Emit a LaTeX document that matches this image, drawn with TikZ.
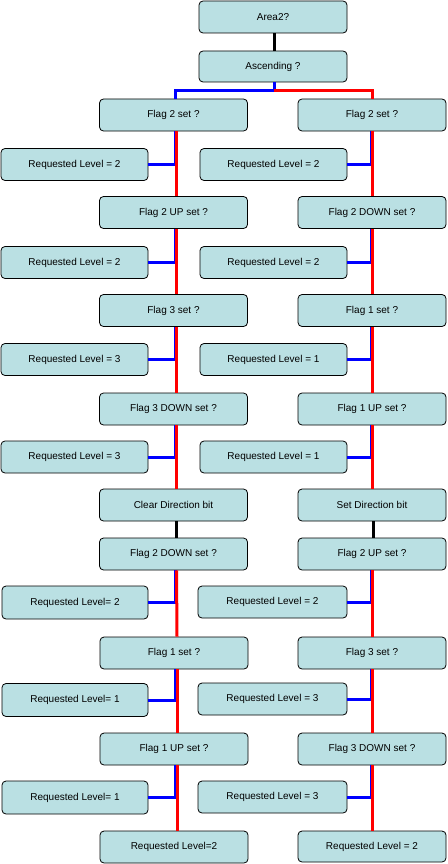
\documentclass[tikz,border=0pt]{standalone}
\usepackage{fontspec}
\setmainfont{Liberation Sans}
\definecolor{boxc}{RGB}{186,224,227}
\definecolor{lblue}{RGB}{0,0,255}
\definecolor{lred}{RGB}{255,0,0}
\tikzset{
  bx/.style={draw=black, line width=0.8pt, rounded corners=4pt, fill=boxc,
    minimum height=32pt, inner sep=0pt, font=\fontsize{10}{12}\selectfont},
  fbox/.style={bx, minimum width=148pt},
  rbox/.style={bx, minimum width=147pt},
  bl/.style={draw=lblue, line width=3pt},
  rd/.style={draw=lred, line width=3pt},
  bk/.style={draw=black, line width=3pt},
}
\begin{document}
\begin{tikzpicture}[x=1pt,y=-1pt]
\useasboundingbox (0,0) rectangle (447,864);
% top
\node[fbox] (area) at (273,17) {Area2?};
\node[fbox, minimum height=31pt] (asc) at (273,66.5) {Ascending ?};
% left column
\node[fbox] (fL1) at (173.5,115) {Flag 2 set ?};
\node[rbox] (rL1) at (74.5,164.5) {Requested Level = 2};
\node[fbox] (fL2) at (173.5,212.5) {Flag 2 UP set ?};
\node[rbox] (rL2) at (74.5,262.5) {Requested Level = 2};
\node[fbox] (fL3) at (173.5,310.5) {Flag 3 set ?};
\node[rbox] (rL3) at (74.5,359.5) {Requested Level = 3};
\node[fbox] (fL4) at (173.5,409) {Flag 3 DOWN set ?};
\node[rbox] (rL4) at (74.5,457) {Requested Level = 3};
\node[fbox] (cL) at (173.5,505) {Clear Direction bit};
\node[fbox] (fL5) at (173.5,554) {Flag 2 DOWN set ?};
\node[rbox, minimum width=146pt, minimum height=33pt] (rL5) at (75,602.5) {Requested Level= 2};
\node[fbox] (fL6) at (174,653) {Flag 1 set ?};
\node[rbox, minimum width=146pt, minimum height=33pt] (rL6) at (75,700) {Requested Level= 1};
\node[fbox] (fL7) at (174,749) {Flag 1 UP set ?};
\node[rbox, minimum width=146pt, minimum height=33pt] (rL7) at (75,797.5) {Requested Level= 1};
\node[fbox] (bL) at (174,847) {Requested Level=2};
% right column
\node[fbox] (fR1) at (372,115) {Flag 2 set ?};
\node[rbox] (rR1) at (273.5,164.5) {Requested Level = 2};
\node[fbox] (fR2) at (372,212.5) {Flag 2 DOWN set ?};
\node[rbox] (rR2) at (273.5,262.5) {Requested Level = 2};
\node[fbox] (fR3) at (372,310.5) {Flag 1 set ?};
\node[rbox] (rR3) at (273.5,359.5) {Requested Level = 1};
\node[fbox] (fR4) at (372,409) {Flag 1 UP set ?};
\node[rbox] (rR4) at (273.5,457) {Requested Level = 1};
\node[fbox] (sR) at (372,505) {Set Direction bit};
\node[fbox] (fR5) at (372,554) {Flag 2 UP set ?};
\node[rbox, minimum width=149pt] (rR5) at (272.5,602) {Requested Level = 2};
\node[fbox] (fR6) at (372,653) {Flag 3 set ?};
\node[rbox, minimum width=149pt] (rR6) at (272.5,699) {Requested Level = 3};
\node[fbox] (fR7) at (372,749) {Flag 3 DOWN set ?};
\node[rbox, minimum width=149pt] (rR7) at (272.5,797) {Requested Level = 3};
\node[fbox, minimum height=31pt] (bR) at (372,846.5) {Requested Level = 2};
% connectors top
\draw[bk] ([xshift=1pt]area.south) -- ([xshift=1pt]asc.north);
\draw[bl] ([xshift=1pt]asc.south) -- ([xshift=1pt,yshift=-8pt]asc.south) -| ([xshift=1.5pt]fL1.north);
\draw[rd] ([xshift=1pt,yshift=-8pt]asc.south) -| ([xshift=0.5pt]fR1.north);
% left column connectors
\foreach \f/\r/\n in {fL1/rL1/fL2, fL2/rL2/fL3, fL3/rL3/fL4, fL4/rL4/cL, fL5/rL5/fL6, fL6/rL6/fL7, fL7/rL7/bL}{
  \draw[bl] ([xshift=1.5pt]\f.south) |- (\r.east);
  \draw[rd] ([xshift=3pt]\f.south) -- ([xshift=3pt]\n.north);
}
\draw[bk] ([xshift=3pt]cL.south) -- ([xshift=3pt]fL5.north);
% right column connectors
\foreach \f/\r/\n in {fR1/rR1/fR2, fR2/rR2/fR3, fR3/rR3/fR4, fR4/rR4/sR, fR5/rR5/fR6, fR6/rR6/fR7, fR7/rR7/bR}{
  \draw[bl] ([xshift=-0.5pt]\f.south) |- (\r.east);
  \draw[rd] ([xshift=0.5pt]\f.south) -- ([xshift=0.5pt]\n.north);
}
\draw[bk] ([xshift=1.5pt]sR.south) -- ([xshift=1.5pt]fR5.north);
\end{tikzpicture}
\end{document}
